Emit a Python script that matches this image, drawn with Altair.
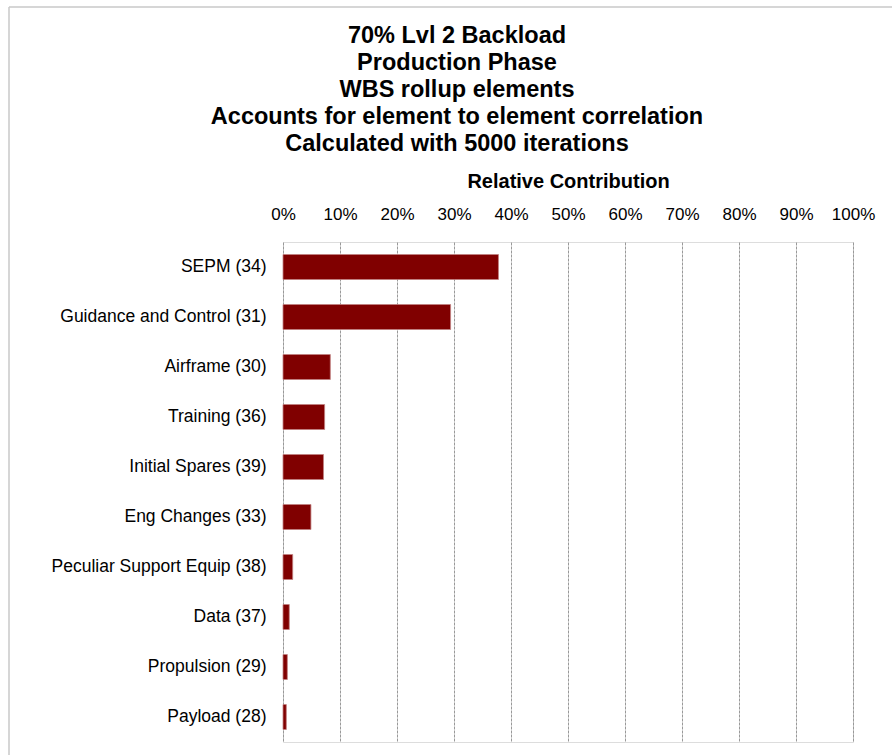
import altair as alt
import pandas as pd

categories = [
    "SEPM (34)",
    "Guidance and Control (31)",
    "Airframe (30)",
    "Training (36)",
    "Initial Spares (39)",
    "Eng Changes (33)",
    "Peculiar Support Equip (38)",
    "Data (37)",
    "Propulsion (29)",
    "Payload (28)",
]
contribution = [0.378, 0.294, 0.083, 0.073, 0.071, 0.049, 0.017, 0.011, 0.0076, 0.0058]
x_ticks = [0, 0.1, 0.2, 0.3, 0.4, 0.5, 0.6, 0.7, 0.8, 0.9, 1.0]
title_lines = [
    "70% Lvl 2 Backload",
    "Production Phase",
    "WBS rollup elements",
    "Accounts for element to element correlation",
    "Calculated with 5000 iterations",
]

df = pd.DataFrame({"Element": categories, "Contribution": contribution})
FONT = "Liberation Sans"

bars = alt.Chart(df).mark_bar(color="#800000", stroke="#c08080", strokeWidth=0.8).encode(
    x=alt.X(
        "Contribution:Q",
        scale=alt.Scale(domain=[0, 1], nice=False),
        axis=alt.Axis(
            orient="top",
            values=x_ticks,
            format=".0%",
            title="Relative Contribution",
            titleFontWeight="bold",
            titleFontSize=20,
            titleFont=FONT,
            titleColor="black",
            titlePadding=14,
            labelFont=FONT,
            labelFontSize=17,
            labelColor="black",
            labelPadding=19,
            labelOverlap=False,
            labelFlush=False,
            domain=False,
            ticks=False,
            grid=True,
            gridColor="#999999",
            gridDash=[3, 1],
            gridWidth=1,
        ),
    ),
    y=alt.Y(
        "Element:N",
        sort=categories,
        scale=alt.Scale(paddingInner=0.5, paddingOuter=0.25),
        axis=alt.Axis(
            title=None,
            labelFont=FONT,
            labelFontSize=17.5,
            labelColor="black",
            labelPadding=17,
            labelLimit=0,
            domain=False,
            ticks=False,
            grid=False,
        ),
    ),
)

frame_df = pd.DataFrame({"k": [0]})
left_border = alt.Chart(frame_df).mark_rule(color="#c8c8c8", strokeWidth=1.5).encode(
    x=alt.value(-274), y=alt.value(-235), y2=alt.value(520)
)
top_border = alt.Chart(frame_df).mark_rule(color="#c8c8c8", strokeWidth=1.5).encode(
    x=alt.value(-274), x2=alt.value(620), y=alt.value(-235)
)

chart = alt.layer(left_border, top_border, bars).properties(
    width=570,
    height=500,
    autosize=alt.AutoSizeParams(type="none"),
    padding={"left": 283, "top": 242, "right": 39, "bottom": 13},
    title=alt.TitleParams(
        text=title_lines,
        font=FONT,
        fontSize=23.5,
        fontWeight="bold",
        color="black",
        lineHeight=27,
        anchor="middle",
        baseline="bottom",
        dx=-111,
        dy=185,
        offset=12,
    ),
).configure_view(strokeWidth=0, stroke="transparent").configure(background="white")

chart.save("out.html", embed_options={"renderer": "svg", "actions": False})
